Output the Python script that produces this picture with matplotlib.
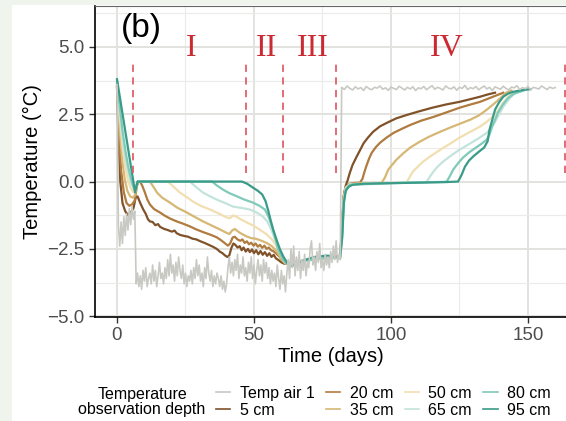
import numpy as np
import matplotlib.pyplot as plt
from matplotlib.lines import Line2D
from matplotlib.patches import Rectangle

plt.rcParams['font.family'] = ['Liberation Sans', 'DejaVu Sans']

# air temperature: half-day steps up to day 82, daily after
air_cold = [3.6, -1.6, -2.4, -1.5, -2.3, -1.3, -2.0, -1.2, -1.8, -1.0, -1.6, -0.9, -1.4, -1.1,
            -3.8, -3.4, -3.9, -3.5, -4.0, -3.3, -3.7, -3.2, -3.9, -3.6,
            -3.4, -3.8, -3.1, -3.7, -3.3, -3.9, -3.5, -3.0, -3.6, -3.4,
            -3.8, -3.2, -3.6, -2.9, -3.5, -2.7, -3.4, -3.1, -3.7, -3.0,
            -3.5, -2.8, -3.3, -3.6, -3.1, -3.8, -3.4, -3.9, -3.5, -3.7,
            -3.3, -3.8, -3.2, -3.6, -2.9, -3.5, -3.1, -3.7, -3.4, -3.9,
            -3.2, -3.6, -2.8, -3.4, -3.7, -3.3, -3.9, -3.5, -3.8, -3.4,
            -3.6, -3.9, -3.5, -4.0, -3.7, -4.1, -3.8, -3.2, -2.8, -3.4,
            -3.0, -3.5, -2.9, -3.3, -2.7, -3.6, -3.1, -3.4, -2.8, -3.5,
            -3.2, -3.7, -3.0, -3.4, -2.8, -3.6, -3.1, -3.8, -3.3, -2.9,
            -3.5, -3.1, -3.7, -2.9, -3.4, -3.0, -3.6, -3.2, -3.8, -3.3,
            -3.7, -3.4, -3.9, -3.1, -3.6, -4.0, -3.3, -3.8, -3.5, -4.1,
            -3.4, -2.9, -3.6, -2.5, -3.2, -2.4, -3.5, -2.8, -3.3, -2.6,
            -3.6, -2.9, -3.3, -2.7, -3.5, -3.0, -3.2, -2.5, -2.2, -3.1,
            -2.8, -3.3, -2.6, -3.0, -2.3, -3.2, -2.9, -3.3, -2.7, -3.1,
            -2.8, -3.2, -2.6, -3.0, -2.4, -2.9, -2.2, -3.0, -2.7, -2.9]
air_warm = [3.50, 3.42, 3.55, 3.46, 3.40, 3.52, 3.44, 3.49, 3.38, 3.53,
            3.45, 3.41, 3.50, 3.47, 3.55, 3.43, 3.48, 3.39, 3.51, 3.46,
            3.42, 3.54, 3.47, 3.40, 3.50, 3.44, 3.52, 3.38, 3.48, 3.45,
            3.53, 3.41, 3.49, 3.56, 3.43, 3.50, 3.46, 3.40, 3.55, 3.47,
            3.44, 3.52, 3.39, 3.50, 3.46, 3.57, 3.42, 3.49, 3.45, 3.53,
            3.41, 3.48, 3.55, 3.44, 3.50, 3.38, 3.52, 3.47, 3.43, 3.54,
            3.46, 3.40, 3.51, 3.48, 3.56, 3.42, 3.49, 3.45, 3.53, 3.41,
            3.50, 3.47, 3.44, 3.55, 3.48, 3.42, 3.51, 3.46, 3.49]
air_days = np.concatenate([np.arange(0, 82, 0.5), np.arange(82, 161, 1.0)])
air_temp = air_cold + air_warm

# soil temperature at each observation depth (day, temp)
d05 = [0, 0.6, 1.2, 2, 3, 4, 5, 6, 6.8, 7.5, 8.5, 9.6, 10.5, 11.3, 12, 13, 14, 15, 15.7, 17, 18.5, 20, 21, 21.8,
       23, 24.5, 26, 27.5, 29, 30.5, 32, 33.5, 35, 36.4, 37.5, 38.5, 39.5, 40.3, 41, 41.8, 42.5, 43.2, 44,
       44.8, 45.5, 46.2, 47, 47.8, 48.5, 49.3, 50, 50.8, 51.6, 52.4, 53.2, 54, 54.8, 55.6, 56.4, 57.2, 58,
       59, 60, 61, 62, 64, 67, 70, 73, 76, 79, 81.5, 82.2, 82.8, 83.5, 84.2, 85, 86, 87.5, 89, 90, 91.5,
       93.5, 96, 98.5, 102, 106, 110, 115, 120, 125, 129, 132.5, 135.5, 138]
t05 = [3.5, 1.4, 0.0, -0.8, -1.1, -1.25, -1.15, -1.0, -0.6, -0.55, -0.8, -1.04, -1.2, -1.4, -1.48, -1.5,
       -1.62, -1.58, -1.68, -1.75, -1.8, -1.86, -1.82, -1.92, -1.98, -2.02, -2.05, -2.12, -2.15, -2.22,
       -2.28, -2.35, -2.42, -2.5, -2.6, -2.66, -2.75, -2.8, -2.74, -2.45, -2.3, -2.35, -2.45, -2.4, -2.55,
       -2.45, -2.6, -2.5, -2.62, -2.52, -2.66, -2.55, -2.7, -2.58, -2.72, -2.62, -2.76, -2.66, -2.8, -2.72,
       -2.85, -2.92, -3.0, -3.05, -3.05, -3.0, -2.95, -2.9, -2.85, -2.8, -2.75, -2.8, -1.5, -0.5, -0.15,
       0.05, 0.33, 0.62, 0.93, 1.22, 1.42, 1.62, 1.85, 2.05, 2.18, 2.35, 2.48, 2.6, 2.74, 2.86, 2.96,
       3.06, 3.15, 3.24, 3.3]

d20 = [0, 0.7, 1.5, 2.5, 3.5, 4.5, 5.5, 6.5, 7.2, 7.8, 8.4, 9.2, 10.2, 11, 12, 13.5, 15.7, 17.5, 19.5,
       21.8, 24, 26.5, 29, 31.5, 34, 36.4, 38, 39.5, 40.5, 41.3, 42.2, 43, 44, 45, 45.8, 46.6, 47.4, 48.2,
       49, 49.8, 50.6, 51.4, 52.2, 53, 53.8, 54.6, 55.4, 56.2, 57, 58, 59.5, 60.5, 61.5, 64, 70, 76, 81.5,
       82.2, 82.8, 83.5, 85, 87, 88.7, 89.6, 90.3, 91, 92, 93, 94.5, 96, 98.5, 101, 104, 107, 111, 115.5,
       120, 125, 129, 132.5, 136, 138, 141]
t20 = [3.55, 1.8, 0.4, -0.4, -0.8, -0.9, -0.85, -0.7, -0.2, 0.0, 0.0, -0.15, -0.41, -0.65, -0.85, -1.02,
       -1.15, -1.27, -1.38, -1.48, -1.56, -1.66, -1.78, -1.88, -1.97, -2.07, -2.18, -2.3, -2.38, -2.3,
       -2.08, -2.05, -2.15, -2.2, -2.15, -2.28, -2.22, -2.33, -2.27, -2.38, -2.3, -2.42, -2.35, -2.46,
       -2.38, -2.5, -2.45, -2.55, -2.58, -2.66, -2.81, -2.95, -3.05, -3.0, -2.92, -2.84, -2.82, -1.6,
       -0.55, -0.2, -0.08, -0.05, -0.04, 0.1, 0.35, 0.57, 0.85, 1.07, 1.28, 1.44, 1.64, 1.81, 1.96, 2.1,
       2.26, 2.4, 2.56, 2.74, 2.86, 2.96, 3.1, 3.18, 3.3]

d35 = [0, 0.8, 1.8, 2.8, 3.8, 4.8, 5.8, 6.6, 7.3, 7.8, 12, 13.2, 14.6, 16.5, 19.3, 22, 25.5, 28.5, 31.4,
       34.5, 37.6, 39.5, 41, 42, 43, 44.5, 46, 47.4, 49, 50.5, 52, 53.3, 55, 56.5, 57.7, 59, 60, 61.5, 64,
       70, 76, 81.5, 82.2, 82.8, 83.5, 85, 90, 96.6, 97.8, 99, 100.5, 102, 104.5, 107, 110.5, 114, 118,
       121.5, 125, 129, 132, 135, 137.5, 140, 142, 144]
t35 = [3.6, 2.2, 0.9, 0.1, -0.35, -0.55, -0.6, -0.5, -0.1, 0.0, 0.0, -0.18, -0.41, -0.6, -0.78, -0.97,
       -1.15, -1.32, -1.48, -1.63, -1.78, -1.88, -1.95, -1.82, -1.76, -1.88, -1.97, -2.04, -2.1, -2.12,
       -2.17, -2.22, -2.3, -2.4, -2.52, -2.7, -2.89, -3.05, -3.0, -2.92, -2.84, -2.82, -1.7, -0.6, -0.22,
       -0.09, -0.06, -0.05, 0.15, 0.44, 0.63, 0.81, 1.05, 1.26, 1.48, 1.67, 1.85, 2.0, 2.14, 2.3, 2.45,
       2.67, 2.88, 3.1, 3.3, 3.38]

d50 = [0, 1, 2, 3, 4, 5, 6, 6.7, 7.4, 18.6, 20.5, 23, 25.5, 27.7, 30.5, 34, 37, 40, 41.2, 42.4, 43.5,
       45.5, 47.4, 49.5, 52, 54.5, 56.6, 58.3, 60, 61.5, 64, 70, 76, 81.5, 82.2, 82.8, 83.5, 85, 95,
       105.7, 107, 108, 110, 111.7, 115, 118, 121.5, 125, 129, 132.5, 135, 137, 139, 141, 143.5, 146]
t50 = [3.65, 2.4, 1.3, 0.55, 0.05, -0.25, -0.4, -0.35, 0.0, 0.0, -0.18, -0.41, -0.58, -0.74, -0.9,
       -1.04, -1.18, -1.33, -1.36, -1.26, -1.3, -1.42, -1.52, -1.62, -1.78, -1.95, -2.15, -2.42, -2.78,
       -3.0, -3.0, -2.92, -2.84, -2.82, -1.8, -0.65, -0.25, -0.1, -0.06, -0.04, 0.2, 0.37, 0.57, 0.74,
       0.98, 1.18, 1.4, 1.63, 1.85, 2.04, 2.22, 2.4, 2.63, 2.93, 3.22, 3.37]

d65 = [0, 1, 2, 3, 4, 5, 6, 6.7, 7.5, 26.6, 28.8, 31.4, 34, 36.4, 39.5, 42.4, 45.5, 48.5, 51, 53.3, 55,
       56.6, 58, 59.5, 61, 62.5, 64, 70, 76, 81.5, 82.2, 82.8, 83.5, 85, 100, 113, 114.2, 115.5, 117, 119,
       122, 125, 127.5, 130, 132.5, 135, 136.5, 138, 139.5, 141, 142.8, 144.5, 147]
t65 = [3.7, 2.6, 1.6, 0.9, 0.4, 0.0, -0.25, -0.3, 0.0, 0.0, -0.2, -0.41, -0.55, -0.67, -0.8, -0.93,
       -0.98, -1.04, -1.15, -1.3, -1.5, -1.85, -2.25, -2.63, -2.95, -3.05, -3.0, -2.92, -2.84, -2.82,
       -1.9, -0.7, -0.27, -0.1, -0.05, -0.02, 0.18, 0.37, 0.55, 0.74, 0.97, 1.18, 1.33, 1.48, 1.64, 1.81,
       1.98, 2.22, 2.5, 2.78, 3.02, 3.22, 3.36]

d80 = [0, 1, 2, 3, 4, 5, 6, 6.6, 7.5, 34.7, 36.5, 38.7, 41, 43.8, 46.5, 49.6, 52, 54, 55.3, 56.6, 57.8,
       58.8, 60.6, 62, 64, 70, 76, 81.5, 82.2, 82.8, 83.5, 85, 100, 120.3, 121.5, 122.7, 124.5, 126.3,
       128.5, 131, 133, 135, 136, 136.8, 138, 139, 140.8, 142.7, 145, 147, 149]
t80 = [3.75, 2.8, 1.9, 1.2, 0.6, 0.15, -0.2, -0.35, 0.0, 0.0, -0.15, -0.3, -0.43, -0.55, -0.67, -0.78,
       -0.9, -1.04, -1.3, -1.67, -2.1, -2.52, -2.9, -3.05, -3.0, -2.92, -2.84, -2.82, -2.0, -0.75, -0.3,
       -0.12, -0.06, -0.01, 0.2, 0.44, 0.68, 0.89, 1.08, 1.26, 1.4, 1.56, 1.75, 2.0, 2.3, 2.55, 2.85, 3.1,
       3.27, 3.33, 3.4]

d95 = [0, 6.6, 7.5, 45.6, 47.5, 49.7, 51.5, 53, 54.2, 55.1, 56, 57, 58.2, 59.5, 60.8, 62, 63, 66, 69, 72,
       76.6, 81.4, 82.2, 82.8, 83.5, 84.5, 86, 90, 100, 110, 120, 124.5, 125.8, 127, 128.5, 130, 132, 134,
       135.3, 136, 137, 138, 139.5, 141, 142.8, 144.5, 148, 151]
t95 = [3.8, -0.4, 0.0, 0.0, -0.08, -0.23, -0.35, -0.48, -0.72, -1.04, -1.4, -1.78, -2.15, -2.52, -2.8,
       -3.0, -3.15, -3.05, -2.9, -2.8, -2.75, -2.8, -2.1, -0.8, -0.35, -0.2, -0.12, -0.08, -0.06, -0.04,
       -0.02, 0.0, 0.25, 0.55, 0.78, 0.93, 1.1, 1.26, 1.5, 1.93, 2.3, 2.67, 2.95, 3.15, 3.27, 3.33, 3.4,
       3.43]

depth_labels = ['5 cm', '20 cm', '35 cm', '50 cm', '65 cm', '80 cm', '95 cm']
depth_colors = ['#80522a', '#b07b3e', '#d6b774', '#f1dfb1', '#c3e4dc', '#7fcab9', '#3a9b89']
soil_days = [d05, d20, d35, d50, d65, d80, d95]
soil_temp = [t05, t20, t35, t50, t65, t80, t95]
air_color = '#c9c9c4'

# phase boundaries (days) and labels
phase_bounds = [5.8, 47.1, 60.6, 79.9, 163.5]
phase_names = ['I', 'II', 'III', 'IV']
phase_pos = [27.0, 54.4, 71.5, 120.4]

fig = plt.figure(figsize=(5.66, 4.21), dpi=100)
fig.patch.set_facecolor('#eff5ec')
fig.patches.append(Rectangle((12 / 566, 0), 1, 1 - 5 / 421, transform=fig.transFigure,
                             facecolor='white', edgecolor='none', zorder=-5))
ax = fig.add_axes([95 / 566, 1 - 317 / 421, 471 / 566, 311 / 421])
ax.patch.set_alpha(0)

for days, temps, c in zip(soil_days, soil_temp, depth_colors):
    ax.plot(days, temps, color=c, lw=1.6, zorder=2, solid_joinstyle='round')
ax.plot(air_days, air_temp, color=air_color, lw=1.2, zorder=3)

for x in phase_bounds:
    ax.plot([x, x], [0.3, 4.5], color='#e0606a', lw=1.3, ls=(0, (4, 3)), zorder=4)
for name, x in zip(phase_names, phase_pos):
    ax.text(x, 4.95, name, color='#cc2a33', fontsize=23, family='Liberation Serif',
            ha='center', va='center')
ax.text(1.5, 5.7, '(b)', fontsize=24, ha='left', va='center')

ax.set_xlim(-8.03, 163.9)
ax.set_ylim(-5.03, 6.52)
ax.set_xticks([0, 50, 100, 150])
ax.set_xticks([25, 75, 125], minor=True)
ax.set_yticks([-5, -2.5, 0, 2.5, 5])
ax.set_yticklabels(['\u22125.0', '\u22122.5', '0.0', '2.5', '5.0'])
ax.set_yticks([-3.75, -1.25, 1.25, 3.75, 6.25], minor=True)
ax.grid(which='major', color='#e2e2df', lw=1.4, zorder=0)
ax.grid(which='minor', color='#ebebe9', lw=0.8, zorder=0)
ax.set_axisbelow(True)
ax.tick_params(which='major', labelsize=13.5, labelcolor='#4d4d4d', color='#333333', length=4, width=1)
ax.tick_params(which='minor', length=0)
ax.spines['right'].set_visible(False)
ax.spines['top'].set_color('#666666')
ax.spines['left'].set_linewidth(1.2)
ax.spines['bottom'].set_linewidth(1.2)
ax.set_xlabel('Time (days)', fontsize=14.5, labelpad=2)
ax.set_ylabel('Temperature (\u00b0C)', fontsize=14.5, labelpad=4)

# legend: 4 columns x 2 rows, title on the left
handles = [Line2D([], [], color=air_color, lw=1.2)]
handles += [Line2D([], [], color=c, lw=1.2) for c in depth_colors]
labels = ['Temp air 1'] + depth_labels
fig.legend(handles, labels, ncol=4, loc='upper left', bbox_to_anchor=(216 / 566, 1 - 386 / 421),
           frameon=False, fontsize=11.5, borderpad=0, borderaxespad=0, handlelength=0.9,
           handletextpad=0.6, columnspacing=0.7, labelspacing=0.1)
fig.text(142 / 566, 1 - 402 / 421, 'Temperature\nobservation depth', ha='center', va='center',
         fontsize=11.5, linespacing=1.05)

plt.savefig('out.png', dpi=100, facecolor=fig.get_facecolor())
